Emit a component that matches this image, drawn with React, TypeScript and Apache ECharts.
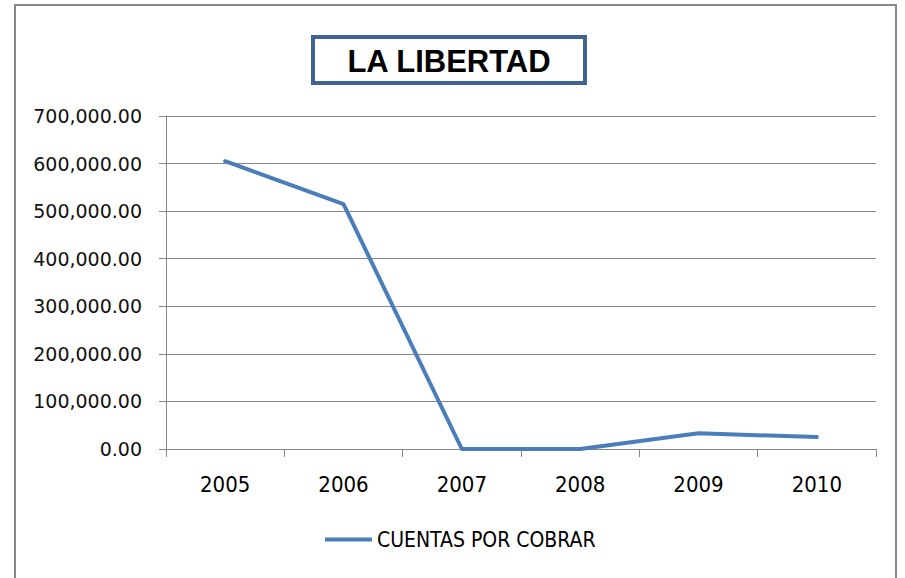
import React, { useEffect, useRef } from "react";
import * as echarts from "echarts";

const categories: string[] = ["2005", "2006", "2007", "2008", "2009", "2010"];
const cuentasPorCobrar: number[] = [605000, 515000, 0, 0, 33000, 25000];
const seriesName = "CUENTAS POR COBRAR";
const titleText = "LA LIBERTAD";
const yMin = 0;
const yMax = 700000;
const yInterval = 100000;

const narrowFont = "'DejaVu Sans Condensed', 'Liberation Sans Narrow', 'Roboto', sans-serif";

function fmt(v: number): string {
  return v.toLocaleString("en-US", { minimumFractionDigits: 2, maximumFractionDigits: 2 });
}

export default function App() {
  const ref = useRef<HTMLDivElement>(null);
  useEffect(() => {
    if (!ref.current) return;
    const chart = echarts.init(ref.current, null, { renderer: "svg" });
    chart.setOption({
      animation: false,
      backgroundColor: "#ffffff",
      grid: { left: 166, top: 116, width: 710, height: 333, containLabel: false },
      legend: {
        show: true,
        left: 320,
        top: 524,
        itemWidth: 47,
        itemHeight: 14,
        icon: "path://M0,6 L47,6 L47,10 L0,10 Z",
        textStyle: { fontFamily: narrowFont, fontSize: 21, color: "#000" },
        data: [seriesName],
      },
      xAxis: {
        type: "category",
        data: categories,
        boundaryGap: true,
        axisLine: { show: true, lineStyle: { color: "#888", width: 1 } },
        axisTick: { show: true, length: 8, lineStyle: { color: "#888" } },
        axisLabel: {
          fontFamily: narrowFont,
          fontSize: 22,
          color: "#000",
          margin: 24,
        },
        splitLine: { show: false },
      },
      yAxis: {
        type: "value",
        min: yMin,
        max: yMax,
        interval: yInterval,
        axisLine: { show: true, lineStyle: { color: "#888", width: 1 } },
        axisTick: { show: true, length: 7, lineStyle: { color: "#888" } },
        axisLabel: {
          fontFamily: "DejaVu Sans",
          fontSize: 19,
          color: "#111",
          margin: 24,
          formatter: (v: number) => fmt(v),
        },
        splitLine: { show: true, lineStyle: { color: "#888", width: 1 } },
      },
      series: [
        {
          name: seriesName,
          type: "line",
          data: cuentasPorCobrar,
          symbol: "none",
          smooth: false,
          itemStyle: { color: "#4a7ebb" },
          lineStyle: { color: "#4a7ebb", width: 4, cap: "round", join: "round" },
        },
      ],
      graphic: [
        {
          type: "rect",
          shape: { x: 15, y: 5, width: 881, height: 580 },
          style: { fill: "none", stroke: "#888", lineWidth: 2 },
          silent: true,
        },
        {
          type: "rect",
          shape: { x: 313, y: 37, width: 272, height: 46 },
          style: { fill: "#fff", stroke: "#41638f", lineWidth: 4 },
          silent: true,
        },
        {
          type: "text",
          x: 449,
          y: 61,
          style: {
            text: titleText,
            font: "bold 31px 'Liberation Sans'",
            fill: "#000",
            align: "center",
            verticalAlign: "middle",
          },
          silent: true,
        },
      ],
    });
    return () => chart.dispose();
  }, []);
  return (
    <div
      ref={ref}
      style={{ position: "absolute", left: 0, top: 0, width: 905, height: 578 }}
    />
  );
}
